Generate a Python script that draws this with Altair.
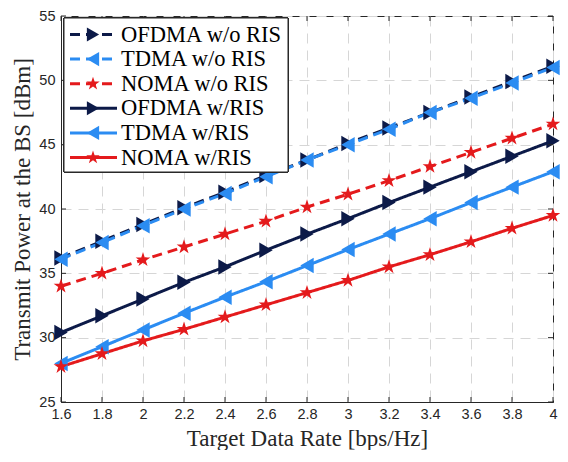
import altair as alt
import pandas as pd

# ---------------- data ----------------
rates = [1.6, 1.8, 2.0, 2.2, 2.4, 2.6, 2.8, 3.0, 3.2, 3.4, 3.6, 3.8, 4.0]
series_names = ["OFDMA w/o RIS", "TDMA w/o RIS", "NOMA w/o RIS",
                "OFDMA w/RIS", "TDMA w/RIS", "NOMA w/RIS"]
ofdma_wo = [36.2, 37.5, 38.8, 40.1, 41.3, 42.6, 43.8, 45.1, 46.3, 47.5, 48.7, 49.9, 51.1]
tdma_wo = [36.1, 37.4, 38.7, 40.0, 41.2, 42.5, 43.8, 45.0, 46.2, 47.5, 48.6, 49.8, 51.0]
noma_wo = [34.0, 35.0, 36.05, 37.05, 38.05, 39.05, 40.15, 41.15, 42.2, 43.3, 44.4, 45.5, 46.6]
ofdma_w = [30.4, 31.7, 33.0, 34.3, 35.5, 36.8, 38.05, 39.25, 40.5, 41.7, 42.9, 44.1, 45.3]
tdma_w = [28.0, 29.3, 30.6, 31.9, 33.15, 34.35, 35.6, 36.85, 38.05, 39.25, 40.5, 41.7, 42.9]
noma_w = [27.75, 28.75, 29.75, 30.65, 31.6, 32.55, 33.5, 34.45, 35.5, 36.45, 37.45, 38.5, 39.5]
all_values = [ofdma_wo, tdma_wo, noma_wo, ofdma_w, tdma_w, noma_w]

x_ticks = [1.6, 1.8, 2.0, 2.2, 2.4, 2.6, 2.8, 3.0, 3.2, 3.4, 3.6, 3.8, 4.0]
y_ticks = [25, 30, 35, 40, 45, 50, 55]

# ---------------- styles ----------------
NAVY, BLUE, RED = "#0c1a48", "#2b8cf2", "#e41a1c"
STAR = ("M0,-1L0.2245,-0.309L0.951,-0.309L0.363,0.118L0.588,0.809L0,0.382"
        "L-0.588,0.809L-0.363,0.118L-0.951,-0.309L-0.2245,-0.309Z")
colors = [NAVY, BLUE, RED, NAVY, BLUE, RED]
shapes = ["triangle-right", "triangle-left", STAR,
          "triangle-right", "triangle-left", STAR]
sizes = [240, 240, 620, 240, 240, 620]
leg_sizes = [200, 200, 520, 200, 200, 520]
dashes = [[10, 6], [10, 6], [10, 6], [1, 0], [1, 0], [1, 0]]
AX = "#262626"
W, H = 492, 386

rows = []
for name, vals in zip(series_names, all_values):
    for r, v in zip(rates, vals):
        rows.append({"series": name, "rate": r, "power": v})
df = pd.DataFrame(rows)

color_s = alt.Scale(domain=series_names, range=colors)
shape_s = alt.Scale(domain=series_names, range=shapes)
size_s = alt.Scale(domain=series_names, range=sizes)
leg_size_s = alt.Scale(domain=series_names, range=leg_sizes)
dash_s = alt.Scale(domain=series_names, range=dashes)

x_enc = alt.X("rate:Q", title="Target Data Rate [bps/Hz]",
              scale=alt.Scale(domain=[1.6, 4.0], nice=False, zero=False),
              axis=alt.Axis(values=x_ticks, format="~g", titleY=43,
                            titleBaseline="alphabetic", labelFlush=False,
                            labelPadding=5))
y_enc = alt.Y("power:Q", title="Transmit Power at the BS [dBm]",
              scale=alt.Scale(domain=[25, 55], nice=False, zero=False),
              axis=alt.Axis(values=y_ticks, titleX=-32,
                            titleBaseline="alphabetic", labelFlush=False,
                            labelPadding=6))

base = alt.Chart(df)
lines = base.mark_line(strokeWidth=3).encode(
    x=x_enc, y=y_enc,
    color=alt.Color("series:N", scale=color_s, legend=None),
    strokeDash=alt.StrokeDash("series:N", scale=dash_s, legend=None),
)
points = base.mark_point(filled=True, opacity=1, strokeWidth=1).encode(
    x=x_enc, y=y_enc,
    color=alt.Color("series:N", scale=color_s, legend=None),
    shape=alt.Shape("series:N", scale=shape_s, legend=None),
    size=alt.Size("series:N", scale=size_s, legend=None),
)

# inward tick marks on all four sides
xt_df = pd.DataFrame({"rate": x_ticks})
yt_df = pd.DataFrame({"power": y_ticks})
xt_bot = alt.Chart(xt_df).mark_rule(color=AX, strokeWidth=1).encode(
    x=x_enc, y=alt.value(H), y2=alt.value(H - 5))
xt_top = alt.Chart(xt_df).mark_rule(color=AX, strokeWidth=1).encode(
    x=x_enc, y=alt.value(0), y2=alt.value(5))
yt_left = alt.Chart(yt_df).mark_rule(color=AX, strokeWidth=1).encode(
    y=y_enc, x=alt.value(0), x2=alt.value(5))
yt_right = alt.Chart(yt_df).mark_rule(color=AX, strokeWidth=1).encode(
    y=y_enc, x=alt.value(W), x2=alt.value(W - 5))

main = alt.layer(lines, points, xt_bot, xt_top, yt_left, yt_right)

# legend (manual, MATLAB style)
leg_df = pd.DataFrame({"series": series_names,
                       "idx": list(range(len(series_names)))})
leg_base = alt.Chart(leg_df)
ly = alt.Y("idx:Q", axis=None,
           scale=alt.Scale(domain=[0, 5], range=[18.5, 141.5], nice=False, zero=False))
leg_box = leg_base.mark_rect(fill="white", stroke=AX, strokeWidth=1).encode(
    x=alt.value(3), x2=alt.value(227), y=alt.value(2), y2=alt.value(156))
leg_lines = leg_base.mark_rule(strokeWidth=3).encode(
    x=alt.value(9), x2=alt.value(56), y=ly,
    color=alt.Color("series:N", scale=color_s, legend=None),
    strokeDash=alt.StrokeDash("series:N", scale=dash_s, legend=None))
leg_pts = leg_base.mark_point(filled=True, opacity=1).encode(
    x=alt.value(32), y=ly,
    color=alt.Color("series:N", scale=color_s, legend=None),
    shape=alt.Shape("series:N", scale=shape_s, legend=None),
    size=alt.Size("series:N", scale=leg_size_s, legend=None))
leg_text = leg_base.mark_text(align="left", baseline="alphabetic", dy=7,
                              font="Liberation Serif", fontSize=22.5,
                              color="#000000").encode(
    x=alt.value(60), y=ly, text="series:N")
legend = alt.layer(leg_box, leg_lines, leg_pts, leg_text)

chart = alt.layer(main, legend).resolve_scale(
    y="independent", size="independent"
).properties(
    width=W, height=H,
    autosize=alt.AutoSizeParams(type="none"),
    padding={"left": 53, "top": 8, "right": 7, "bottom": 48},
).configure_view(
    stroke=AX, strokeWidth=1
).configure_axis(
    domainColor=AX, domainWidth=1, tickSize=0,
    labelFont="Liberation Sans", labelFontSize=14.5, labelColor=AX,
    titleFont="Liberation Serif", titleFontSize=23, titleColor=AX,
    titleFontWeight="normal",
    grid=True, gridColor="#d6d6d6", gridDash=[10, 7], gridWidth=1,
)

chart.save("out.html", embed_options={"renderer": "svg", "actions": False})
